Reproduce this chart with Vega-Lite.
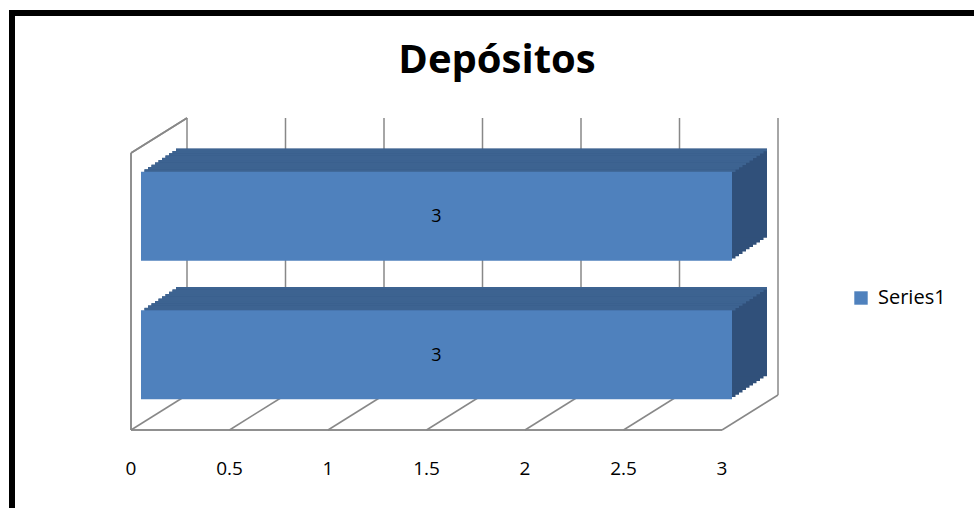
{
  "$schema": "https://vega.github.io/schema/vega-lite/v6.json",
  "width": 970,
  "height": 500,
  "autosize": {"type": "none"},
  "padding": {"left": 12, "top": 13, "right": 0, "bottom": 0},
  "background": "white",
  "title": {"text": "Depósitos", "fontSize": 40, "font": "Open Sans", "fontWeight": "bold", "color": "#000000", "anchor": "middle", "offset": -68, "dx": 0},
  "datasets": {
    "deposits": [
      {"answer": "NO", "count": 3, "series": "Series1"},
      {"answer": "SI", "count": 3, "series": "Series1"}
    ],
    "ticks": [
      {"tick": 0}, {"tick": 0.5}, {"tick": 1}, {"tick": 1.5}, {"tick": 2}, {"tick": 2.5}, {"tick": 3}
    ]
  },
  "config": {
    "view": {"stroke": "#000000", "strokeWidth": 6},
    "font": "Open Sans"
  },
  "resolve": {"scale": {"x": "independent"}},
  "layer": [
    {
      "layer": [
        {
          "data": {"name": "deposits"},
          "mark": {"type": "bar", "height": {"band": 0.643}, "xOffset": 10, "x2Offset": 10, "yOffset": -6, "y2Offset": -6, "opacity": 0},
          "encoding": {
            "x": {
              "field": "count", "type": "quantitative",
              "scale": {"domain": [0, 3], "range": [119, 710], "nice": false, "zero": true},
              "axis": null
            },
            "y": {
              "field": "answer", "type": "nominal",
              "scale": {"domain": ["NO", "SI"], "range": [140, 417], "paddingInner": 0, "paddingOuter": 0},
              "axis": {"title": null, "domain": false, "ticks": false, "grid": false, "labelFontSize": 20, "labelColor": "#000000", "labelFont": "Open Sans", "offset": -95, "labelPadding": 5}
            }
          }
        },
        {
          "data": {"name": "ticks"},
          "mark": {"type": "rule", "color": "#888888", "strokeWidth": 1.5, "xOffset": 56, "yOffset": -35, "y2Offset": -35},
          "encoding": {
            "x": {"field": "tick", "type": "quantitative", "axis": null},
            "y": {"datum": "NO", "type": "nominal", "bandPosition": 0, "axis": null},
            "y2": {"datum": "SI", "bandPosition": 1}
          }
        },
        {
          "data": {"name": "ticks"},
          "mark": {"type": "rule", "color": "#888888", "strokeWidth": 1.5, "x2Offset": 56, "y2Offset": -35},
          "encoding": {
            "x": {"field": "tick", "type": "quantitative", "axis": null},
            "x2": {"field": "tick"},
            "y": {"datum": "SI", "type": "nominal", "bandPosition": 1, "axis": null},
            "y2": {"datum": "SI", "bandPosition": 1}
          }
        },
        {
          "data": {"name": "deposits"},
          "mark": {"type": "rule", "color": "#888888", "strokeWidth": 1.5},
          "encoding": {
            "x": {"field": "count", "type": "quantitative", "axis": null},
            "y": {"datum": "SI", "type": "nominal", "bandPosition": 1, "axis": null}
          }
        },
        {
          "data": {"name": "deposits"},
          "mark": {"type": "rule", "color": "#888888", "strokeWidth": 1.5},
          "encoding": {
            "x": {"datum": 0, "type": "quantitative", "axis": null},
            "y": {"datum": "NO", "type": "nominal", "bandPosition": 0, "axis": null},
            "y2": {"datum": "SI", "bandPosition": 1}
          }
        },
        {
          "data": {"name": "deposits"},
          "mark": {"type": "rule", "color": "#888888", "strokeWidth": 1.5, "x2Offset": 56, "y2Offset": -35},
          "encoding": {
            "x": {"datum": 0, "type": "quantitative", "axis": null},
            "x2": {"datum": 0},
            "y": {"datum": "NO", "type": "nominal", "bandPosition": 0, "axis": null},
            "y2": {"datum": "NO", "bandPosition": 0}
          }
        },
        {
          "data": {"name": "ticks"},
          "mark": {"type": "text", "fontSize": 19, "color": "#000000", "font": "Open Sans", "yOffset": 39, "align": "center", "baseline": "middle"},
          "encoding": {
            "x": {"field": "tick", "type": "quantitative", "axis": null},
            "y": {"datum": "SI", "type": "nominal", "bandPosition": 1, "axis": null},
            "text": {"field": "tick", "type": "quantitative"}
          }
        },
        {"data": {"name": "deposits"}, "mark": {"type": "bar", "color": "#30507a", "height": {"band": 0.643}, "xOffset": 13.5, "x2Offset": 13.5, "yOffset": -8.3, "y2Offset": -8.3}, "encoding": {"x": {"field": "count", "type": "quantitative", "axis": null}, "y": {"field": "answer", "type": "nominal", "axis": null}}},
        {"data": {"name": "deposits"}, "mark": {"type": "bar", "color": "#30507a", "height": {"band": 0.643}, "xOffset": 17, "x2Offset": 17, "yOffset": -10.6, "y2Offset": -10.6}, "encoding": {"x": {"field": "count", "type": "quantitative", "axis": null}, "y": {"field": "answer", "type": "nominal", "axis": null}}},
        {"data": {"name": "deposits"}, "mark": {"type": "bar", "color": "#30507a", "height": {"band": 0.643}, "xOffset": 20.5, "x2Offset": 20.5, "yOffset": -12.9, "y2Offset": -12.9}, "encoding": {"x": {"field": "count", "type": "quantitative", "axis": null}, "y": {"field": "answer", "type": "nominal", "axis": null}}},
        {"data": {"name": "deposits"}, "mark": {"type": "bar", "color": "#30507a", "height": {"band": 0.643}, "xOffset": 24, "x2Offset": 24, "yOffset": -15.2, "y2Offset": -15.2}, "encoding": {"x": {"field": "count", "type": "quantitative", "axis": null}, "y": {"field": "answer", "type": "nominal", "axis": null}}},
        {"data": {"name": "deposits"}, "mark": {"type": "bar", "color": "#30507a", "height": {"band": 0.643}, "xOffset": 27.5, "x2Offset": 27.5, "yOffset": -17.5, "y2Offset": -17.5}, "encoding": {"x": {"field": "count", "type": "quantitative", "axis": null}, "y": {"field": "answer", "type": "nominal", "axis": null}}},
        {"data": {"name": "deposits"}, "mark": {"type": "bar", "color": "#30507a", "height": {"band": 0.643}, "xOffset": 31, "x2Offset": 31, "yOffset": -19.8, "y2Offset": -19.8}, "encoding": {"x": {"field": "count", "type": "quantitative", "axis": null}, "y": {"field": "answer", "type": "nominal", "axis": null}}},
        {"data": {"name": "deposits"}, "mark": {"type": "bar", "color": "#30507a", "height": {"band": 0.643}, "xOffset": 34.5, "x2Offset": 34.5, "yOffset": -22.1, "y2Offset": -22.1}, "encoding": {"x": {"field": "count", "type": "quantitative", "axis": null}, "y": {"field": "answer", "type": "nominal", "axis": null}}},
        {"data": {"name": "deposits"}, "mark": {"type": "bar", "color": "#30507a", "height": {"band": 0.643}, "xOffset": 38, "x2Offset": 38, "yOffset": -24.4, "y2Offset": -24.4}, "encoding": {"x": {"field": "count", "type": "quantitative", "axis": null}, "y": {"field": "answer", "type": "nominal", "axis": null}}},
        {"data": {"name": "deposits"}, "mark": {"type": "bar", "color": "#30507a", "height": {"band": 0.643}, "xOffset": 41.5, "x2Offset": 41.5, "yOffset": -26.7, "y2Offset": -26.7}, "encoding": {"x": {"field": "count", "type": "quantitative", "axis": null}, "y": {"field": "answer", "type": "nominal", "axis": null}}},
        {"data": {"name": "deposits"}, "mark": {"type": "bar", "color": "#30507a", "height": {"band": 0.643}, "xOffset": 45, "x2Offset": 45, "yOffset": -29, "y2Offset": -29}, "encoding": {"x": {"field": "count", "type": "quantitative", "axis": null}, "y": {"field": "answer", "type": "nominal", "axis": null}}},
        {"data": {"name": "deposits"}, "mark": {"type": "bar", "color": "#3d6391", "height": 2.6, "xOffset": 13.5, "x2Offset": 13.5, "yOffset": -51.65}, "encoding": {"x": {"field": "count", "type": "quantitative", "axis": null}, "y": {"field": "answer", "type": "nominal", "axis": null}}},
        {"data": {"name": "deposits"}, "mark": {"type": "bar", "color": "#3d6391", "height": 2.6, "xOffset": 17, "x2Offset": 17, "yOffset": -53.95}, "encoding": {"x": {"field": "count", "type": "quantitative", "axis": null}, "y": {"field": "answer", "type": "nominal", "axis": null}}},
        {"data": {"name": "deposits"}, "mark": {"type": "bar", "color": "#3d6391", "height": 2.6, "xOffset": 20.5, "x2Offset": 20.5, "yOffset": -56.25}, "encoding": {"x": {"field": "count", "type": "quantitative", "axis": null}, "y": {"field": "answer", "type": "nominal", "axis": null}}},
        {"data": {"name": "deposits"}, "mark": {"type": "bar", "color": "#3d6391", "height": 2.6, "xOffset": 24, "x2Offset": 24, "yOffset": -58.55}, "encoding": {"x": {"field": "count", "type": "quantitative", "axis": null}, "y": {"field": "answer", "type": "nominal", "axis": null}}},
        {"data": {"name": "deposits"}, "mark": {"type": "bar", "color": "#3d6391", "height": 2.6, "xOffset": 27.5, "x2Offset": 27.5, "yOffset": -60.85}, "encoding": {"x": {"field": "count", "type": "quantitative", "axis": null}, "y": {"field": "answer", "type": "nominal", "axis": null}}},
        {"data": {"name": "deposits"}, "mark": {"type": "bar", "color": "#3d6391", "height": 2.6, "xOffset": 31, "x2Offset": 31, "yOffset": -63.15}, "encoding": {"x": {"field": "count", "type": "quantitative", "axis": null}, "y": {"field": "answer", "type": "nominal", "axis": null}}},
        {"data": {"name": "deposits"}, "mark": {"type": "bar", "color": "#3d6391", "height": 2.6, "xOffset": 34.5, "x2Offset": 34.5, "yOffset": -65.45}, "encoding": {"x": {"field": "count", "type": "quantitative", "axis": null}, "y": {"field": "answer", "type": "nominal", "axis": null}}},
        {"data": {"name": "deposits"}, "mark": {"type": "bar", "color": "#3d6391", "height": 2.6, "xOffset": 38, "x2Offset": 38, "yOffset": -67.75}, "encoding": {"x": {"field": "count", "type": "quantitative", "axis": null}, "y": {"field": "answer", "type": "nominal", "axis": null}}},
        {"data": {"name": "deposits"}, "mark": {"type": "bar", "color": "#3d6391", "height": 2.6, "xOffset": 41.5, "x2Offset": 41.5, "yOffset": -70.05}, "encoding": {"x": {"field": "count", "type": "quantitative", "axis": null}, "y": {"field": "answer", "type": "nominal", "axis": null}}},
        {"data": {"name": "deposits"}, "mark": {"type": "bar", "color": "#3d6391", "height": 2.6, "xOffset": 45, "x2Offset": 45, "yOffset": -72.35}, "encoding": {"x": {"field": "count", "type": "quantitative", "axis": null}, "y": {"field": "answer", "type": "nominal", "axis": null}}},
        {
          "data": {"name": "deposits"},
          "mark": {"type": "bar", "height": {"band": 0.643}, "xOffset": 10, "x2Offset": 10, "yOffset": -6, "y2Offset": -6},
          "encoding": {
            "x": {"field": "count", "type": "quantitative", "axis": null},
            "y": {"field": "answer", "type": "nominal", "axis": null},
            "color": {
              "field": "series", "type": "nominal",
              "scale": {"range": ["#4f81bd"]},
              "legend": {"title": null, "orient": "none", "legendX": 839, "legendY": 275, "symbolType": "square", "symbolSize": 180, "symbolStrokeWidth": 0, "labelFontSize": 20, "labelColor": "#000000", "labelFont": "Open Sans", "labelOffset": 7, "padding": 0}
            }
          }
        }
      ]
    },
    {
      "data": {"name": "deposits"},
      "mark": {"type": "text", "fontSize": 18, "color": "#000000", "font": "Open Sans", "xOffset": 10, "yOffset": -5, "align": "center", "baseline": "middle"},
      "encoding": {
        "x": {"field": "count", "type": "quantitative", "scale": {"domain": [0, 6], "range": [119, 710], "nice": false}, "axis": null},
        "y": {"field": "answer", "type": "nominal", "axis": null},
        "text": {"field": "count", "type": "quantitative"}
      }
    }
  ]
}
